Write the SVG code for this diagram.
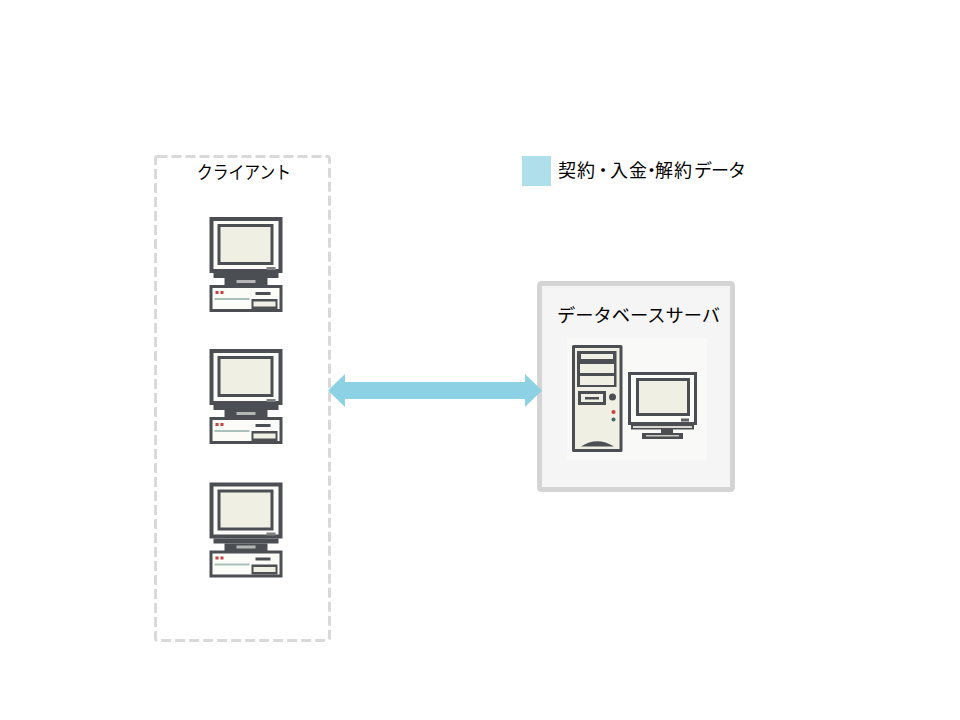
<svg xmlns="http://www.w3.org/2000/svg" width="960" height="720" viewBox="0 0 960 720">
<style>
text{font-family:"Noto Sans CJK JP","Liberation Sans",sans-serif;fill:#000;font-size:18px}
.d{fill:#4c5052}
.l{fill:#efefe4}
.w{fill:#fbfbf8}
</style>
<defs>
<filter id="soft" x="-5%" y="-5%" width="110%" height="110%"><feGaussianBlur stdDeviation="0.45"/></filter>
<g id="pc" filter="url(#soft)">
<rect class="d" x="0" y="0" width="73" height="56"/>
<rect class="w" x="4" y="4" width="65" height="48"/>
<rect class="d" x="8" y="7" width="56" height="41"/>
<rect class="l" x="11" y="10" width="50" height="35"/>
<rect fill="#7d8080" x="57" y="50" width="9" height="3"/>
<rect class="d" x="4" y="56" width="65" height="5"/>
<rect class="d" x="15" y="61" width="43" height="8"/>
<rect fill="#b4b6b6" x="27" y="63" width="19" height="3"/>
<rect class="d" x="0" y="68" width="73" height="27"/>
<rect class="w" x="3" y="71" width="67" height="21"/>
<rect fill="#c9403f" x="6" y="74" width="3" height="3"/>
<rect fill="#c9403f" x="11" y="74" width="3" height="3"/>
<rect class="d" x="46" y="75" width="15" height="3"/>
<rect fill="#a9c0b8" x="5" y="81" width="35" height="2"/>
<rect class="d" x="42" y="82" width="26" height="10"/>
<rect class="l" x="44" y="84.500" width="22" height="5"/>
</g>
</defs>
<g id="client-group">
<rect x="155.500" y="156.500" width="174" height="484" rx="2" fill="#fff" stroke="#d9d9d9" stroke-width="3" stroke-dasharray="10 4"/>
<text x="197" y="179" textLength="94" lengthAdjust="spacingAndGlyphs">クライアント</text>
</g>
<g id="client-1"><use href="#pc" x="209.500" y="217"/></g>
<g id="client-2"><use href="#pc" x="209.500" y="349"/></g>
<g id="client-3"><use href="#pc" x="209.500" y="482.500"/></g>
<g id="legend">
<rect x="522" y="156" width="29" height="30" fill="#aedfeb"/>
<text x="558 577 594 610 629 642.500 655 674 694 711 728" y="177">契約・入金・解約データ</text>
</g>
<g id="database-server">
<rect x="539.500" y="283.500" width="193" height="206" rx="2" fill="#f5f5f5" stroke="#d4d4d4" stroke-width="5"/>
<text x="557" y="322" textLength="163" lengthAdjust="spacingAndGlyphs">データベースサーバ</text>
<rect x="567" y="338" width="140" height="122" fill="#f9f9f8"/>
<g filter="url(#soft)">
<rect class="d" x="572" y="345" width="50.500" height="107" rx="1.500"/>
<rect class="l" x="575" y="348" width="44.500" height="101"/>
<rect class="d" x="577" y="351" width="39.500" height="36"/>
<rect class="l" x="581" y="354" width="32" height="5"/>
<rect class="l" x="580" y="364" width="34" height="9"/>
<rect class="l" x="580" y="376" width="34" height="9"/>
<rect class="d" x="578" y="391" width="28" height="14"/>
<rect class="l" x="581" y="394" width="22" height="8"/>
<rect class="d" x="585" y="397" width="14" height="2.500"/>
<circle class="d" cx="612.500" cy="397" r="3.500"/>
<circle fill="#c9403f" cx="613.500" cy="412" r="2"/>
<circle fill="#3f6a6a" cx="613.500" cy="419.500" r="2"/>
<path class="d" d="M581 446.500Q597 436 614 446.500Z"/>
<rect class="d" x="628" y="372" width="69" height="53"/>
<rect class="w" x="631" y="375" width="63" height="47"/>
<rect class="d" x="636" y="378" width="54" height="38"/>
<rect class="l" x="639" y="381" width="48" height="32"/>
<rect fill="#5d6062" x="681" y="418.500" width="8" height="3"/>
<rect class="d" x="631" y="425" width="63" height="4.500"/>
<rect fill="#d8d8d0" x="633" y="426" width="59" height="2"/>
<rect class="d" x="661" y="429" width="12" height="4"/>
<rect class="d" x="642" y="433" width="41" height="6"/>
<rect fill="#c8c8c4" x="646" y="435" width="33" height="1.500"/>
</g>
</g>
<g id="connectors">
<path fill="#8dd2e4" d="M328 390.500L345 374V382H525V374L542 390.500L525 407V399H345V407Z"/>
</g>
</svg>
